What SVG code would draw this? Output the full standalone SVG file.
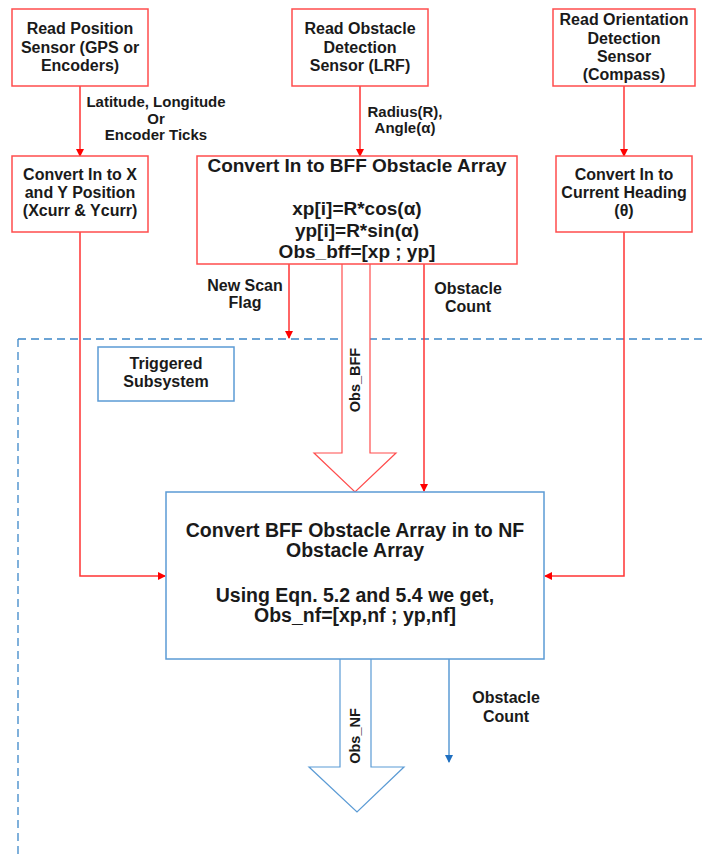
<svg xmlns="http://www.w3.org/2000/svg" width="704" height="857" viewBox="0 0 704 857">
<defs>
<marker id="ar" markerWidth="8" markerHeight="8" refX="7" refY="4" orient="auto" markerUnits="userSpaceOnUse"><path d="M0,0 L8,4 L0,8 Z" fill="#ff0000"/></marker>
<marker id="ab" markerWidth="8" markerHeight="8" refX="7" refY="4" orient="auto" markerUnits="userSpaceOnUse"><path d="M0,0 L8,4 L0,8 Z" fill="#1f6fc0"/></marker>
<style>
.rbox{fill:#fff;stroke:#ff4d4d;stroke-width:1.5}
.bbox{fill:#fff;stroke:#5b9bd5;stroke-width:1.5}
.rl{fill:none;stroke:#ff3333;stroke-width:1.5}
.bl{fill:none;stroke:#5b9bd5;stroke-width:1.5}
.big{fill:#fff;stroke:#ff4d4d;stroke-width:1.2}
.bigb{fill:#fff;stroke:#5b9bd5;stroke-width:1.2}
text{font-family:"Liberation Sans",Arial,sans-serif;font-weight:bold;fill:#1a1a1a;text-anchor:middle}
.t16{font-size:16px}
.t15{font-size:15px}
.t19{font-size:19px}
.t195{font-size:19.5px}
.t14{font-size:14.5px}
</style>
</defs>
<g id="subsystem-frame">
<path d="M18,339 H704 M18,339 V857" fill="none" stroke="#3c87c8" stroke-width="1.3" stroke-dasharray="8,5"/>
</g>
<g id="connectors">
<path class="rl" d="M80,86 V156" marker-end="url(#ar)"/>
<path class="rl" d="M360,86 V156" marker-end="url(#ar)"/>
<path class="rl" d="M624,86 V156" marker-end="url(#ar)"/>
<path class="rl" d="M80,232 V576 H165" marker-end="url(#ar)"/>
<path class="rl" d="M624,232 V576 H545" marker-end="url(#ar)"/>
<path class="rl" d="M289,264 V338" marker-end="url(#ar)"/>
<path class="rl" d="M424,264 V491" marker-end="url(#ar)"/>
<path class="big" d="M342,264 V453 H314 L355,492 L396,453 H370 V264"/>
<path class="bl" d="M449,659 V762" stroke="#1f6fc0" marker-end="url(#ab)"/>
<path class="bigb" d="M340,659 V767 H309 L357,812 L404,767 H371 V659"/>
</g>
<g id="labels">
<text class="t15" x="156" y="107">Latitude, Longitude</text>
<text class="t15" x="156" y="124">Or</text>
<text class="t15" x="156" y="140">Encoder Ticks</text>
<text class="t15" x="405" y="117">Radius(R),</text>
<text class="t15" x="405" y="133">Angle(α)</text>
<text class="t16" x="245" y="291">New Scan</text>
<text class="t16" x="245" y="308">Flag</text>
<text class="t16" x="468" y="294">Obstacle</text>
<text class="t16" x="468" y="312">Count</text>
<text class="t14" transform="translate(360,380) rotate(-90)">Obs_BFF</text>
<text class="t14" transform="translate(360,736) rotate(-90)">Obs_NF</text>
<text class="t16" x="506" y="703">Obstacle</text>
<text class="t16" x="506" y="722">Count</text>
</g>
<g id="read-position">
<rect class="rbox" x="12" y="9" width="136" height="77"/>
<text class="t16" x="80" y="34">Read Position</text>
<text class="t16" x="80" y="52.5">Sensor (GPS or</text>
<text class="t16" x="80" y="71">Encoders)</text>
</g>
<g id="read-obstacle">
<rect class="rbox" x="292" y="9" width="136" height="77"/>
<text class="t16" x="360" y="34">Read Obstacle</text>
<text class="t16" x="360" y="52.5">Detection</text>
<text class="t16" x="360" y="71">Sensor (LRF)</text>
</g>
<g id="read-orientation">
<rect class="rbox" x="553" y="9" width="142" height="77"/>
<text class="t16" x="624" y="25">Read Orientation</text>
<text class="t16" x="624" y="43.5">Detection</text>
<text class="t16" x="624" y="62">Sensor</text>
<text class="t16" x="624" y="80">(Compass)</text>
</g>
<g id="convert-xy">
<rect class="rbox" x="12" y="156" width="136" height="76"/>
<text class="t16" x="80" y="180">Convert In to X</text>
<text class="t16" x="80" y="198">and Y Position</text>
<text class="t16" x="80" y="216">(Xcurr &amp; Ycurr)</text>
</g>
<g id="convert-bff">
<rect class="rbox" x="197" y="156" width="320" height="108"/>
<text class="t19" x="357" y="172">Convert In to BFF Obstacle Array</text>
<text class="t19" x="357" y="215">xp[i]=R*cos(α)</text>
<text class="t19" x="357" y="236.5">yp[i]=R*sin(α)</text>
<text class="t19" x="357" y="258">Obs_bff=[xp ; yp]</text>
</g>
<g id="convert-heading">
<rect class="rbox" x="556" y="156" width="136" height="76"/>
<text class="t16" x="624" y="180">Convert In to</text>
<text class="t16" x="624" y="198">Current Heading</text>
<text class="t16" x="624" y="216">(θ)</text>
</g>
<g id="triggered-subsystem">
<rect class="bbox" x="98" y="347" width="136" height="54"/>
<text class="t16" x="166" y="369">Triggered</text>
<text class="t16" x="166" y="387">Subsystem</text>
</g>
<g id="convert-nf">
<rect class="bbox" x="166" y="492" width="378" height="167"/>
<text class="t195" x="355" y="537">Convert BFF Obstacle Array in to NF</text>
<text class="t195" x="355" y="557">Obstacle Array</text>
<text class="t195" x="355" y="602">Using Eqn. 5.2 and 5.4 we get,</text>
<text class="t195" x="355" y="622">Obs_nf=[xp,nf ; yp,nf]</text>
</g>
</svg>
